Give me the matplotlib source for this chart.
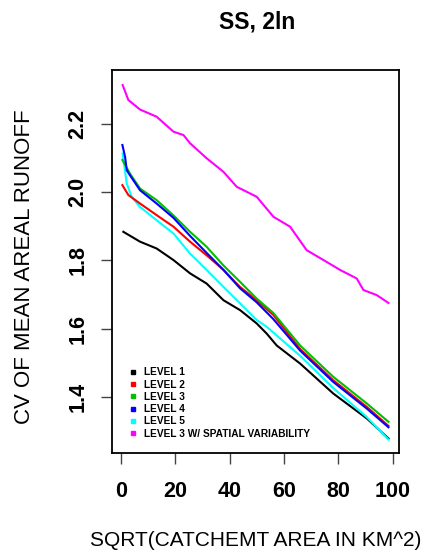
import matplotlib
matplotlib.use("Agg")
import matplotlib.pyplot as plt
from matplotlib.lines import Line2D

plt.rcParams['font.family'] = ['Liberation Sans', 'DejaVu Sans']

mag_x = [0.6, 2.7, 7, 13.1, 19.3, 23, 25.4, 31.5, 37.7, 42.6, 49.9, 56.1, 62.2, 68.3, 74.5, 80.6, 86.7, 89.2, 94.1, 98.4]
mag_y = [2.315, 2.271, 2.243, 2.222, 2.178, 2.168, 2.144, 2.10, 2.06, 2.016, 1.987, 1.928, 1.899, 1.830, 1.801, 1.772, 1.747, 1.713, 1.698, 1.675]

l1_x = [0.85, 7, 13.1, 19.3, 25.4, 31.5, 37.7, 43.8, 49.9, 53.6, 57.3, 65.9, 78.1, 90.4, 98.4]
l1_y = [1.884, 1.855, 1.835, 1.801, 1.762, 1.732, 1.683, 1.654, 1.615, 1.585, 1.55, 1.497, 1.409, 1.336, 1.277]

l5_x = [0.6, 2.1, 3.9, 7, 13.1, 19.3, 25.4, 31.5, 37.7, 43.8, 49.9, 53.6, 65.9, 78.1, 90.4, 98.4]
l5_y = [2.114, 2.026, 1.987, 1.957, 1.918, 1.879, 1.82, 1.772, 1.722, 1.674, 1.625, 1.605, 1.52, 1.425, 1.34, 1.274]

l2_x = [0.5, 2.7, 7, 13.1, 19.3, 25.4, 31.5, 37.7, 43.8, 49.9, 56, 65.9, 78.1, 90.4, 98.4]
l2_y = [2.021, 1.992, 1.967, 1.933, 1.899, 1.855, 1.815, 1.772, 1.722, 1.683, 1.64, 1.54, 1.448, 1.37, 1.314]

l4_x = [0.5, 1.5, 2.1, 3.3, 7, 13.1, 19.3, 25.4, 31.5, 37.7, 43.8, 49.9, 56, 65.9, 78.1, 90.4, 98.4]
l4_y = [2.139, 2.104, 2.065, 2.05, 2.006, 1.967, 1.925, 1.872, 1.822, 1.772, 1.718, 1.677, 1.628, 1.535, 1.443, 1.365, 1.31]

l3_x = [0.5, 3.3, 7, 13.1, 19.3, 25.4, 31.5, 37.7, 43.8, 49.9, 56, 65.9, 78.1, 90.4, 98.4]
l3_y = [2.095, 2.055, 2.011, 1.977, 1.932, 1.884, 1.84, 1.785, 1.737, 1.688, 1.646, 1.55, 1.458, 1.38, 1.326]

labels = ['LEVEL 1', 'LEVEL 2', 'LEVEL 3', 'LEVEL 4', 'LEVEL 5', 'LEVEL 3 W/ SPATIAL VARIABILITY']
colors = ['black', 'red', '#00c000', 'blue', 'cyan', 'magenta']

fig = plt.figure(figsize=(4.25, 5.56), dpi=100)
ax = fig.add_axes([0.263, 0.185, 0.676, 0.689])

ax.plot(l1_x, l1_y, color='black', lw=1.5)
ax.plot(l5_x, l5_y, color='cyan', lw=1.5)
ax.plot(l2_x, l2_y, color='red', lw=1.5)
ax.plot(l3_x, l3_y, color='#00c000', lw=1.5)
ax.plot(l4_x, l4_y, color='blue', lw=1.5)
ax.plot(mag_x, mag_y, color='magenta', lw=1.5)

ax.set_xlim(-3.4, 102.3)
ax.set_ylim(1.234, 2.359)
ax.set_xticks([0, 20, 40, 60, 80, 100])
ax.set_yticks([1.4, 1.6, 1.8, 2.0, 2.2])
ax.set_yticklabels(['1.4', '1.6', '1.8', '2.0', '2.2'], rotation=90, va='center')
for t in ax.get_xticklabels() + ax.get_yticklabels():
    t.set_fontweight('bold')
ax.tick_params(axis='both', length=8, width=1, color='#444444', labelsize=15.5)
ax.tick_params(axis='x', pad=12)
ax.tick_params(axis='y', pad=9)
for s in ax.spines.values():
    s.set_linewidth(1.3)

ax.set_xlabel('SQRT(CATCHEMT AREA IN KM^2)', fontsize=15, va='center')
ax.xaxis.set_label_coords(0.5, -0.227)
ax.set_ylabel('CV OF MEAN AREAL RUNOFF', fontsize=16, va='center')
ax.yaxis.set_label_coords(-0.305, 0.486)
fig.text(0.605, 0.960, 'SS, 2ln', ha='center', va='center', fontsize=16.5, fontweight='bold')

handles = [Line2D([], [], marker='s', ls='none', color=c, markersize=3) for c in colors]
ax.legend(handles, labels, loc='upper left', bbox_to_anchor=(0.047, 0.235), frameon=False,
          prop={'size': 7.3, 'weight': 'bold'}, handlelength=0.8, handletextpad=0.6,
          labelspacing=0.23, borderaxespad=0)

fig.savefig('out.png', dpi=100)
